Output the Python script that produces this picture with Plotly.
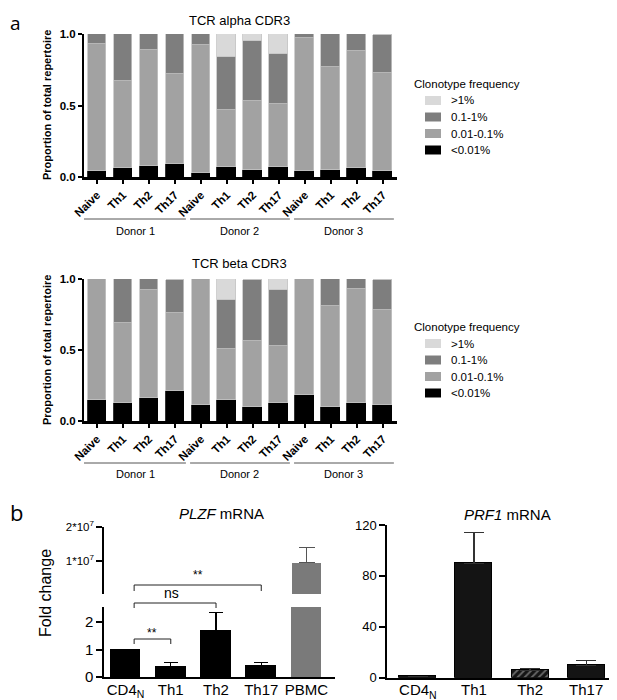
import plotly.graph_objects as go

# the page body keeps its default 8px margin, so the figure fills the rest of the window
OFF = 8
W, H = 617 - OFF, 700 - OFF

# ---- panel a data: proportion of repertoire per clonotype frequency class ----
groups = ['Donor 1', 'Donor 2', 'Donor 3']
cells = ['Naive', 'Th1', 'Th2', 'Th17']
bar_labels = cells * 3
freq_names = ['&lt;0.01%', '0.01-0.1%', '0.1-1%', '&gt;1%']
freq_colors = ['#000000', '#a2a2a2', '#7e7e7e', '#d9d9d9']

alpha_lt001 = [0.04, 0.06, 0.08, 0.09, 0.03, 0.07, 0.05, 0.07, 0.04, 0.05, 0.06, 0.04]
alpha_001_01 = [0.89, 0.61, 0.81, 0.63, 0.89, 0.40, 0.48, 0.44, 0.93, 0.72, 0.82, 0.69]
alpha_01_1 = [0.07, 0.33, 0.11, 0.28, 0.08, 0.37, 0.42, 0.35, 0.03, 0.23, 0.12, 0.26]
alpha_gt1 = [0, 0, 0, 0, 0, 0.16, 0.05, 0.14, 0, 0, 0, 0]

beta_lt001 = [0.15, 0.13, 0.16, 0.21, 0.11, 0.15, 0.10, 0.13, 0.18, 0.10, 0.13, 0.11]
beta_001_01 = [0.85, 0.56, 0.76, 0.55, 0.89, 0.36, 0.46, 0.40, 0.82, 0.71, 0.80, 0.67]
beta_01_1 = [0, 0.31, 0.08, 0.23, 0, 0.34, 0.43, 0.39, 0, 0.19, 0.07, 0.21]
beta_gt1 = [0, 0, 0, 0, 0, 0.15, 0, 0.08, 0, 0, 0, 0]

# ---- panel b data: fold change mRNA ----
plzf_cells = ['CD4<sub>N</sub>', 'Th1', 'Th2', 'Th17', 'PBMC']
plzf_mean = [1.0, 0.38, 1.68, 0.41, 9.4e6]
plzf_err = [None, 0.14, 0.66, 0.11, 4.5e6]

prf1_cells = ['CD4<sub>N</sub>', 'Th1', 'Th2', 'Th17']
prf1_mean = [1.0, 90, 5.8, 9.7]
prf1_err = [None, 24, 1.6, 3.6]

FONT = 'Liberation Sans, Arial, sans-serif'


def px(x):
    # window pixel -> paper fraction
    return (x - OFF) / W


def py(y):
    return 1 - (y - OFF) / H


fig = go.Figure()

xs = list(range(len(bar_labels)))
panels = [
    ('x', 'y', [alpha_lt001, alpha_001_01, alpha_01_1, alpha_gt1]),
    ('x2', 'y2', [beta_lt001, beta_001_01, beta_01_1, beta_gt1]),
]
for xa, ya, series in panels:
    for name, col, vals in zip(freq_names, freq_colors, series):
        fig.add_trace(go.Bar(
            x=xs, y=vals, name=name, xaxis=xa, yaxis=ya, showlegend=False,
            width=0.73, marker_color=col,
            marker_line=dict(color='#000000' if col == '#000000' else '#c4c4c4', width=0.8),
        ))

# PLZF lower segment
bar_cols = ['#000000'] * 4 + ['#7a7a7a']
fig.add_trace(go.Bar(
    x=list(range(5)), y=plzf_mean, xaxis='x3', yaxis='y3', showlegend=False,
    width=0.66, marker=dict(color=bar_cols, line=dict(color=bar_cols, width=1)),
    error_y=dict(type='data', array=plzf_err, arrayminus=[0] * 5, symmetric=False,
                 color='#000000', thickness=1.3, width=7),
))
# PLZF upper segment (only PBMC reaches it)
fig.add_trace(go.Bar(
    x=[4], y=[plzf_mean[4]], xaxis='x4', yaxis='y4', showlegend=False,
    width=0.66, marker=dict(color='#7a7a7a', line=dict(width=0)),
    error_y=dict(type='data', array=[plzf_err[4]], arrayminus=[0], symmetric=False,
                 color='#555555', thickness=1.3, width=8),
))
# PRF1
fig.add_trace(go.Bar(
    x=list(range(4)), y=prf1_mean, xaxis='x5', yaxis='y5', showlegend=False,
    width=0.66,
    marker=dict(color='#141414', line=dict(color='#000000', width=1),
                pattern=dict(shape=['', '', '/', ''], fgcolor='#6a6a6a', bgcolor='#141414',
                             size=5, solidity=0.35)),
    error_y=dict(type='data', array=prf1_err, arrayminus=[0] * 4, symmetric=False,
                 color='#333333', thickness=1.3, width=10),
))

axis_a = dict(showline=True, linecolor='black', linewidth=2.5, ticks='outside',
              ticklen=4, tickwidth=2, tickcolor='black', showgrid=False, zeroline=False,
              automargin=False)
xa_common = dict(axis_a, range=[-0.5, 11.54], tickvals=xs, ticktext=bar_labels,
                 tickangle=-45, tickfont=dict(size=11.5, weight='bold', color='black'),
                 domain=[px(84), px(397)])
ya_common = dict(axis_a, range=[0, 1], tickvals=[0, 0.5, 1], ticktext=['0.0', '0.5', '1.0'],
                 tickfont=dict(size=11.5, weight='bold', color='black'), linewidth=2)

axis_b = dict(showline=True, linecolor='black', linewidth=1.5, showgrid=False, zeroline=False,
              automargin=False, tickcolor='black')

fig.update_layout(
    template='none',
    width=W, height=H, autosize=False,
    margin=dict(l=0, r=0, t=0, b=0, pad=0),
    paper_bgcolor='white', plot_bgcolor='white',
    font=dict(family=FONT, color='black'),
    showlegend=False,
    barmode='stack', bargap=0,
    xaxis=dict(xa_common, anchor='y'),
    yaxis=dict(ya_common, anchor='x', domain=[py(177), py(34)]),
    xaxis2=dict(xa_common, anchor='y2'),
    yaxis2=dict(ya_common, anchor='x2', domain=[py(421), py(279)]),
    xaxis3=dict(axis_b, anchor='y3', domain=[px(104), px(335)], range=[-0.476, 4.63],
                tickvals=list(range(5)), ticktext=plzf_cells, ticks='',
                ticklabelstandoff=-2, tickfont=dict(size=15)),
    yaxis3=dict(axis_b, anchor='x3', domain=[py(677), py(607)], range=[0, 2.55],
                tickvals=[0, 1, 2], ticks='outside', ticklen=6, tickwidth=1.5,
                tickfont=dict(size=15)),
    xaxis4=dict(anchor='y4', domain=[px(104), px(335)], range=[-0.476, 4.63],
                visible=False),
    yaxis4=dict(axis_b, anchor='x4', domain=[py(594), py(527)], range=[0, 2e7],
                tickvals=[1e7, 2e7], ticktext=['1*10<sup>7</sup>', '2*10<sup>7</sup>'],
                ticks='outside', ticklen=6, tickwidth=1.5, tickfont=dict(size=11.5)),
    xaxis5=dict(axis_b, anchor='y5', domain=[px(387), 1], range=[-0.55, 3.55],
                tickvals=list(range(4)), ticktext=prf1_cells, ticks='',
                ticklabelstandoff=-2, tickfont=dict(size=15)),
    yaxis5=dict(axis_b, anchor='x5', domain=[py(677.7), py(525)], range=[0, 120],
                tickvals=[0, 40, 80, 120], ticks='outside', ticklen=6, tickwidth=1.5,
                tickfont=dict(size=13)),
)

ann = []
shapes = []

# titles and labels
ann.append(dict(text='a', x=px(8), y=1, xanchor='left', yanchor='top',
                font=dict(size=19, family='Open Sans')))
ann.append(dict(text='b', x=px(8), y=py(512), xanchor='left', font=dict(size=22, family='Open Sans')))
ann.append(dict(text='TCR alpha CDR3', x=px(239), y=py(20), font=dict(size=13)))
ann.append(dict(text='TCR beta CDR3', x=px(239), y=py(263), font=dict(size=13)))
for yc in (105, 350):
    ann.append(dict(text='<b>Proportion of total repertoire</b>', x=px(47), y=py(yc),
                    textangle=-90, font=dict(size=11)))
ann.append(dict(text='<i>PLZF</i> mRNA', x=px(221), y=py(513), font=dict(size=15)))
ann.append(dict(text='<i>PRF1</i> mRNA', x=px(507), y=py(515), font=dict(size=15)))
ann.append(dict(text='Fold change', x=px(45), y=py(593), textangle=-90, font=dict(size=16)))

# donor group lines and labels
for xa, yline, ylab in (('x', 219, 231), ('x2', 463, 474)):
    for g, gname in enumerate(groups):
        x0 = -0.5 if g == 0 else 4 * g - 0.42
        shapes.append(dict(type='line', xref=xa, yref='paper', x0=x0, x1=4 * g + 3.42,
                           y0=py(yline), y1=py(yline), line=dict(color='#555555', width=1)))
        ann.append(dict(text=gname, xref=xa, x=4 * g + 1.5, y=py(ylab), font=dict(size=11)))

# clonotype frequency keys (drawn top to bottom: >1% first)
for ytitle in (84, 327):
    ann.append(dict(text='Clonotype frequency', x=px(412), y=py(ytitle), xanchor='left',
                    font=dict(size=11.5)))
    for k, (name, col) in enumerate(zip(freq_names[::-1], freq_colors[::-1])):
        yc = ytitle + 16.5 * (k + 1)
        shapes.append(dict(type='rect', xref='paper', yref='paper',
                           x0=px(425), x1=px(441), y0=py(yc - 4.5), y1=py(yc + 4.5),
                           fillcolor=col, line=dict(width=0)))
        ann.append(dict(text=name, x=px(449), y=py(yc), xanchor='left', font=dict(size=11.5)))

# significance brackets on PLZF
brackets = [(3, 585, 591, '**', 575, 198), (2, 603, 608, 'ns', 593, 171), (1, 639, 644, '**', 633, 152)]
for xi, ytop, ybot, label, ytxt, xtxt in brackets:
    shapes.append(dict(type='path', xref='x3', yref='paper',
                       path=f'M 0.19,{py(ybot)} L 0.19,{py(ytop)} L {xi},{py(ytop)} L {xi},{py(ybot)}',
                       line=dict(color='#222222', width=1)))
    ann.append(dict(text=label, x=px(xtxt), y=py(ytxt),
                    font=dict(size=12 if label == '**' else 14)))

for a in ann:
    a.setdefault('xref', 'paper')
    a['yref'] = 'paper'
    a['showarrow'] = False
    a.setdefault('xanchor', 'center')
    a.setdefault('yanchor', 'middle')
    a['font'].setdefault('color', 'black')

fig.update_layout(annotations=ann, shapes=shapes)

fig.write_html("out.html")
